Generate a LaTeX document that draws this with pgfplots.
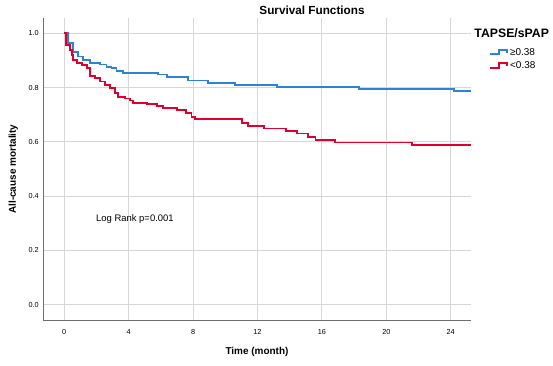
\documentclass[border=0pt]{standalone}
\usepackage{pgfplots}
\pgfplotsset{compat=1.18}
\usepackage{fontspec}
\setmainfont{Liberation Sans}
\definecolor{kmblue}{RGB}{45,130,210}
\definecolor{kmred}{RGB}{225,0,45}
\definecolor{gridgray}{RGB}{215,215,215}
\definecolor{spinegray}{RGB}{110,110,110}
\begin{document}
\begin{tikzpicture}[x=1bp,y=1bp]
\useasboundingbox (0,0) rectangle (553,365);
\begin{axis}[
  at={(43.3bp,45bp)}, anchor=south west,
  scale only axis, width=427.4bp, height=301.7bp,
  xmin=-1.3, xmax=25.24, ymin=-0.056, ymax=1.055,
  xtick={0,4,8,12,16,20,24},
  ytick={0,0.2,0.4,0.6,0.8,1.0},
  /pgf/number format/assume math mode=true,
  yticklabel style={/pgf/number format/fixed,/pgf/number format/fixed zerofill,/pgf/number format/precision=1, font=\fontsize{7.3}{8}\selectfont, xshift=-1bp},
  xticklabel style={font=\fontsize{7.3}{8}\selectfont, yshift=-6bp},
  axis x line*=bottom, axis y line*=left,
  axis line style={draw=spinegray, line width=1bp, -},
  tick style={draw=none},
  grid=major,
  major grid style={draw=gridgray, line width=1bp},
  xlabel={\textbf{Time (month)}},
  ylabel={\textbf{All-cause mortality}},
  label style={font=\fontsize{12}{14}\selectfont},
  every axis x label/.style={at={(axis description cs:0.5,-0.106)}, anchor=center},
  every axis y label/.style={at={(axis description cs:-0.07,0.5)}, rotate=90, anchor=center},
  legend style={at={(rel axis cs:1.042,0.905)}, anchor=north west, draw=none, fill=none,
    font=\fontsize{10}{11}\selectfont, inner sep=0pt, row sep=3bp,
    nodes={inner sep=1bp},
    /tikz/every odd column/.append style={column sep=1.5bp}},
  legend cell align=left,
  legend image code/.code={\draw[#1, line width=1.8bp, line join=miter] (0bp,-2bp) -- (9bp,-2bp) -- (9bp,2.5bp) -- (17bp,2.5bp) -- (17bp,-0.5bp);},
  clip=false,
]
\addplot[const plot, draw=kmblue, line width=1.8bp, line join=miter] coordinates {
(0,1.0) (0.25,0.963) (0.56,0.932) (0.87,0.914) (1.18,0.902) (1.6,0.889)
(2.2,0.885) (2.63,0.877) (2.94,0.871) (3.25,0.862) (3.66,0.855) (5.84,0.848)
(6.36,0.84) (7.7,0.826) (8.95,0.816) (10.6,0.809) (13.2,0.801) (18.3,0.794)
(24.2,0.787) (25.24,0.787)
};
\addlegendentry{≥0.38}
\addplot[const plot, draw=kmred, line width=1.8bp, line join=miter] coordinates {
(0,1.0) (0.1,0.958) (0.35,0.938) (0.46,0.92) (0.56,0.902) (0.77,0.889)
(1.08,0.883) (1.39,0.871) (1.6,0.842) (1.9,0.834) (2.2,0.822) (2.53,0.809)
(2.84,0.797) (3.15,0.779) (3.35,0.766) (3.77,0.76) (4.08,0.752) (4.29,0.744)
(5.12,0.74) (5.74,0.732) (6.15,0.724) (6.98,0.716) (7.55,0.705) (7.9,0.693)
(8.1,0.685) (11.05,0.668) (11.4,0.658) (12.4,0.649) (13.75,0.64) (14.45,0.631)
(15.15,0.619) (15.6,0.608) (16.8,0.598) (21.6,0.587) (25.24,0.587)
};
\addlegendentry{<0.38}
\node[font=\fontsize{9.5}{11}\selectfont, anchor=west] at (axis cs:1.76,0.315) {Log Rank p=0.001};
\end{axis}
\node[font=\bfseries\fontsize{11.8}{13}\selectfont] at (312,354.4) {Survival Functions};
\node[font=\bfseries\fontsize{12.3}{14}\selectfont] at (511.7,332.3) {TAPSE/sPAP};
\end{tikzpicture}
\end{document}
